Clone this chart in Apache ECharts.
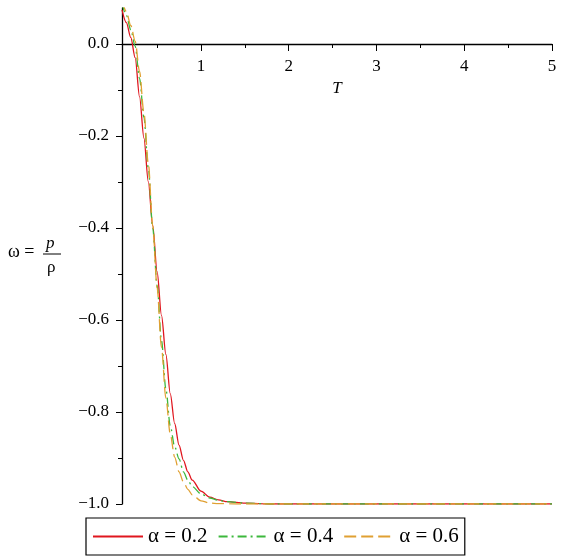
<!DOCTYPE html>
<html>
<head>
<meta charset="utf-8">
<script src="https://cdn.jsdelivr.net/npm/echarts@6/dist/echarts.min.js"></script>
<style>
  html, body { margin: 0; padding: 0; background: #fff; }
  #chart { width: 561px; height: 559px; }
</style>
</head>
<body>
<div id="chart"></div>
<script>
  // values
  const seriesNames = ["α = 0.2", "α = 0.4", "α = 0.6"]

  const tRed = [0.10, 0.15, 0.20, 0.25, 0.30, 0.35, 0.40, 0.45, 0.50, 0.55, 0.60, 0.65, 0.70, 0.75, 0.80, 0.85, 0.90, 1.00, 1.10, 1.20, 1.30, 1.50, 1.80, 5.0]
  const wRed = [0.074, 0.046, 0.014, -0.03, -0.115, -0.205, -0.30, -0.395, -0.495, -0.59, -0.675, -0.76, -0.825, -0.872, -0.905, -0.93, -0.948, -0.972, -0.985, -0.991, -0.995, -0.998, -1.0, -1.0]

  const tGreen = [0.10, 0.15, 0.20, 0.25, 0.30, 0.35, 0.40, 0.45, 0.50, 0.55, 0.60, 0.65, 0.70, 0.75, 0.80, 0.85, 0.90, 1.00, 1.10, 1.20, 1.30, 1.50, 1.80, 5.0]
  const wGreen = [0.088, 0.062, 0.03, -0.005, -0.075, -0.16, -0.27, -0.40, -0.525, -0.645, -0.75, -0.83, -0.875, -0.902, -0.93, -0.948, -0.962, -0.978, -0.987, -0.992, -0.995, -0.998, -1.0, -1.0]

  const tOrange = [0.10, 0.15, 0.20, 0.25, 0.30, 0.35, 0.40, 0.45, 0.50, 0.55, 0.60, 0.65, 0.70, 0.75, 0.80, 0.85, 0.90, 1.00, 1.10, 1.20, 1.40, 1.80, 5.0]
  const wOrange = [0.095, 0.07, 0.04, 0.006, -0.06, -0.15, -0.26, -0.395, -0.53, -0.66, -0.77, -0.848, -0.898, -0.93, -0.952, -0.968, -0.98, -0.993, -0.998, -0.999, -1.0, -1.0, -1.0]

  const xMajorTicks = [1, 2, 3, 4, 5]
  const xMinorTicks = [0.5, 1.5, 2.5, 3.5, 4.5]
  const yMajorTicks = [-1.0, -0.8, -0.6, -0.4, -0.2, 0.0]
  const yMinorTicks = [-0.9, -0.7, -0.5, -0.3, -0.1]

  const font = "'Liberation Serif', 'DejaVu Serif', serif"
  const zip = (a, b) => a.map((v, i) => [v, b[i]])

  // x axis is drawn on the zero line: grid bottom is 460px below it
  const xBase = {
    type: "value", min: 0.1, max: 5, position: "bottom", offset: -460,
    splitLine: {show: false},
    axisLine: {onZero: false, lineStyle: {color: "#000", width: 1.3}},
  }
  const yBase = {
    type: "value", min: -1.0, max: 0.078, position: "left",
    splitLine: {show: false},
    axisLine: {onZero: false, lineStyle: {color: "#000", width: 1.3}},
  }

  const option = {
    animation: false,
    grid: {left: 122, right: 9, top: 8, bottom: 55},
    xAxis: [
      Object.assign({}, xBase, {
        name: "T",
        nameLocation: "middle",
        nameGap: 35,
        nameTextStyle: {fontFamily: font, fontStyle: "italic", fontSize: 17, color: "#000"},
        axisTick: {show: true, customValues: xMajorTicks, length: 7, lineStyle: {color: "#000"}},
        axisLabel: {customValues: xMajorTicks, margin: 14, fontFamily: font, fontSize: 17, color: "#000"},
      }),
      Object.assign({}, xBase, {
        axisLine: {show: false, onZero: false},
        axisTick: {show: true, customValues: xMinorTicks, length: 4, lineStyle: {color: "#000"}},
        axisLabel: {show: false},
      }),
    ],
    yAxis: [
      Object.assign({}, yBase, {
        axisTick: {show: true, customValues: yMajorTicks, length: 6, lineStyle: {color: "#000"}},
        axisLabel: {
          customValues: yMajorTicks, margin: 13, fontFamily: font, fontSize: 17, color: "#000",
          formatter: v => (v < -1e-9 ? "\u2212" : "") + Math.abs(v).toFixed(1),
        },
      }),
      Object.assign({}, yBase, {
        axisLine: {show: false, onZero: false},
        axisTick: {show: true, customValues: yMinorTicks, length: 4, lineStyle: {color: "#000"}},
        axisLabel: {show: false},
      }),
    ],
    legend: {
      left: 86, top: 518,
      padding: [8, 6, 8, 6],
      borderColor: "#000", borderWidth: 1.2,
      itemWidth: 50, itemHeight: 14, itemGap: 10,
      itemStyle: {color: "rgba(0,0,0,0)", borderWidth: 0, borderColor: "rgba(0,0,0,0)"},
      textStyle: {fontFamily: font, fontSize: 21, color: "#000"},
      data: seriesNames,
    },
    graphic: [
      {type: "text", left: 8, top: 243, style: {text: "ω =", font: "18px " + font, fill: "#000"}},
      {type: "text", left: 46, top: 235, style: {text: "p", font: "italic 17px " + font, fill: "#000"}},
      {type: "line", shape: {x1: 43, y1: 254, x2: 61, y2: 254}, style: {stroke: "#000", lineWidth: 1}},
      {type: "text", left: 47, top: 259, style: {text: "ρ", font: "17px " + font, fill: "#000"}},
    ],
    series: [
      {
        name: seriesNames[0], type: "line", data: zip(tRed, wRed),
        symbol: "none", smooth: 0.3, smoothMonotone: "x",
        lineStyle: {color: "#e0161e", width: 1.3},
        itemStyle: {color: "#e0161e"},
      },
      {
        name: seriesNames[1], type: "line", data: zip(tGreen, wGreen),
        symbol: "none", smooth: 0.3, smoothMonotone: "x",
        lineStyle: {color: "#3cb83c", width: 1.3, type: [9, 4, 2, 4]},
        itemStyle: {color: "#3cb83c"},
      },
      {
        name: seriesNames[2], type: "line", data: zip(tOrange, wOrange),
        symbol: "none", smooth: 0.3, smoothMonotone: "x",
        lineStyle: {color: "#e0a032", width: 1.3, type: [12, 5]},
        itemStyle: {color: "#e0a032"},
      },
    ],
  }

  const myChart = echarts.init(document.getElementById("chart"))
  myChart.setOption(option)
</script>
</body>
</html>
